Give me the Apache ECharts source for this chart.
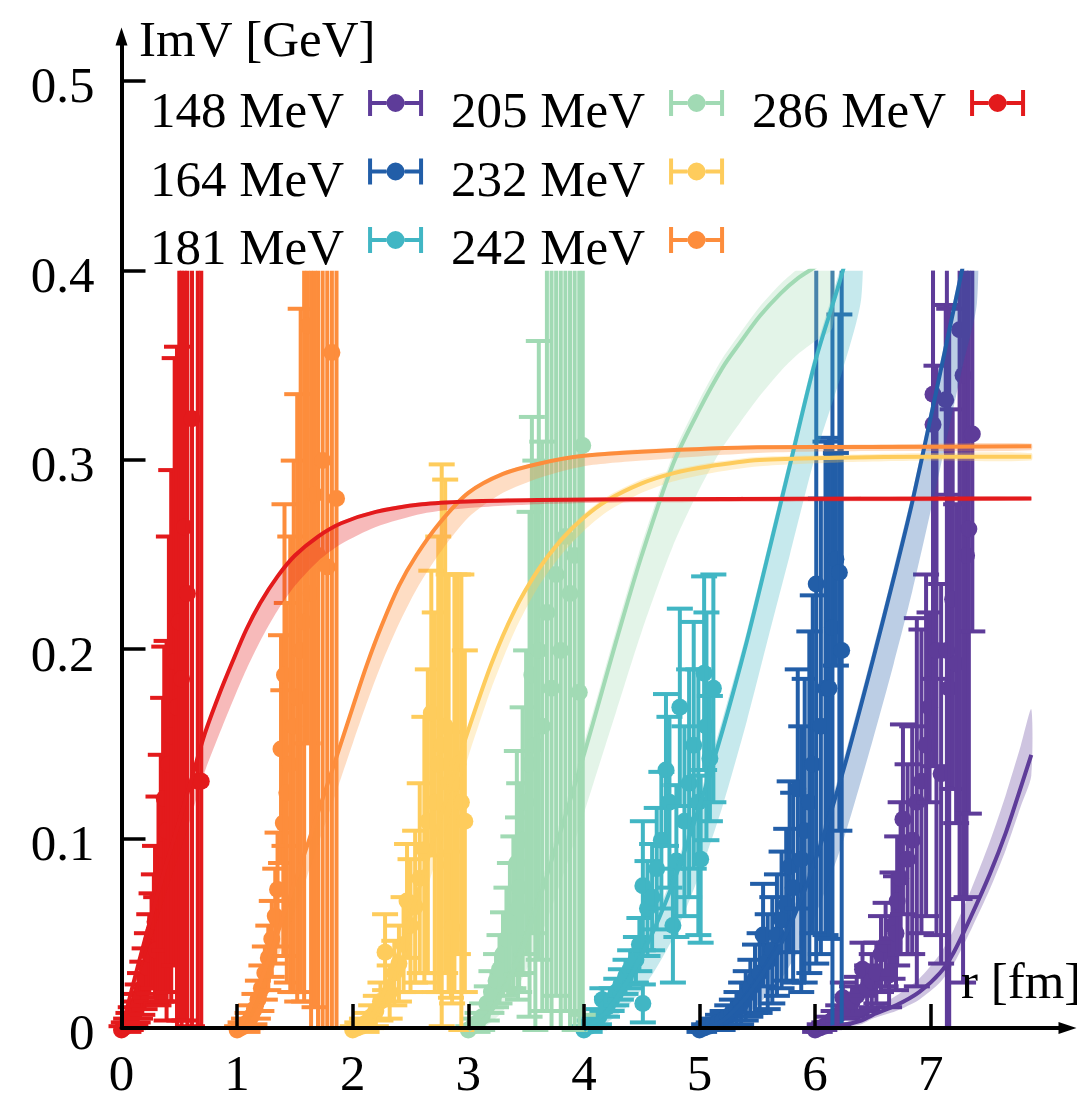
<!DOCTYPE html>
<html>
<head>
<meta charset="utf-8">
<script src="https://cdn.jsdelivr.net/npm/echarts@6/dist/echarts.min.js"></script>
<style>
  html, body { margin: 0; padding: 0; background: #fff; }
  #chart { width: 1077px; height: 1102px; }
</style>
</head>
<body>
<div id="chart"></div>
<script>
// Imaginary part of the static potential vs. distance, one curve per temperature.
// Each temperature is shifted to the right by a whole number of fm.
const temperatures = ['148 MeV', '164 MeV', '181 MeV', '205 MeV', '232 MeV', '242 MeV', '286 MeV'];
const shifts = [6, 5, 4, 3, 2, 1, 0];

const xTicks = [0, 1, 2, 3, 4, 5, 6, 7];
const yTicks = [0, 0.1, 0.2, 0.3, 0.4, 0.5];
const yTickLabels = ['0', '0.1', '0.2', '0.3', '0.4', '0.5'];

// Lattice points: r [fm], Im V [GeV], error [GeV]
const r148 = [0.00,0.04,0.08,0.12,0.16,0.20,0.24,0.28,0.32,0.36,0.41,0.45,0.49,0.53,0.57,0.61,0.64,0.67,0.70,0.71,0.74,0.76,0.80,0.84,0.88,0.92,0.96,0.99,1.02,1.02,1.05,1.09,1.13,1.14,1.16,1.19,1.22,1.25,1.28,1.31,1.33,1.36];
const v148 = [0.000,0.001,0.002,0.004,0.006,0.008,0.017,0.012,0.015,0.018,0.032,0.022,0.026,0.030,0.040,0.045,0.029,0.055,0.051,0.068,0.080,0.111,0.090,0.100,0.120,0.131,0.150,0.170,0.335,0.319,0.200,0.135,0.332,0.200,0.180,0.227,0.193,0.369,0.345,0.250,0.264,0.314];
const e148 = [0.001,0.002,0.002,0.003,0.004,0.005,0.008,0.006,0.008,0.010,0.014,0.012,0.014,0.016,0.020,0.022,0.017,0.028,0.030,0.034,0.040,0.050,0.050,0.060,0.097,0.080,0.090,0.050,0.150,0.180,0.150,0.100,0.050,0.220,0.200,0.100,0.084,0.300,0.320,0.180,0.150,0.104];

const r164 = [0.00,0.04,0.08,0.12,0.16,0.20,0.24,0.28,0.32,0.36,0.40,0.44,0.48,0.52,0.55,0.59,0.63,0.67,0.71,0.75,0.78,0.81,0.85,0.88,0.91,0.95,0.98,1.01,1.05,1.09,1.12,1.15,1.18,1.21,1.23];
const v164 = [0.000,0.001,0.002,0.003,0.004,0.005,0.007,0.009,0.011,0.014,0.018,0.022,0.027,0.030,0.050,0.036,0.042,0.050,0.058,0.066,0.086,0.075,0.127,0.090,0.105,0.120,0.140,0.235,0.160,0.180,0.180,0.212,0.248,0.241,0.200];
const e164 = [0.001,0.002,0.002,0.003,0.004,0.005,0.006,0.007,0.009,0.011,0.013,0.015,0.018,0.021,0.027,0.025,0.028,0.032,0.036,0.040,0.045,0.050,0.063,0.070,0.080,0.090,0.089,0.200,0.120,0.130,0.132,0.250,0.056,0.136,0.250];

const r181 = [0.00,0.05,0.09,0.13,0.16,0.20,0.24,0.28,0.32,0.36,0.40,0.45,0.48,0.51,0.51,0.55,0.59,0.63,0.67,0.71,0.74,0.77,0.80,0.83,0.87,0.91,0.95,0.99,1.01,1.04,1.06,1.09,1.12];
const v181 = [0.000,0.002,0.004,0.007,0.016,0.012,0.016,0.020,0.024,0.028,0.032,0.037,0.045,0.014,0.076,0.064,0.070,0.085,0.100,0.137,0.120,0.055,0.089,0.170,0.110,0.130,0.150,0.120,0.090,0.188,0.160,0.143,0.180];
const e181 = [0.002,0.003,0.003,0.004,0.006,0.005,0.006,0.007,0.008,0.009,0.010,0.012,0.014,0.010,0.034,0.025,0.028,0.032,0.036,0.040,0.045,0.030,0.040,0.052,0.050,0.060,0.065,0.070,0.044,0.051,0.060,0.033,0.060];

const r205 = [0.00,0.04,0.08,0.12,0.16,0.20,0.24,0.27,0.30,0.33,0.36,0.39,0.42,0.43,0.44,0.47,0.50,0.53,0.55,0.58,0.61,0.64,0.68,0.72,0.76,0.80,0.84,0.88,0.92,0.96,0.99];
const v205 = [0.000,0.002,0.004,0.007,0.014,0.020,0.026,0.032,0.040,0.048,0.055,0.062,0.088,0.064,0.075,0.100,0.120,0.140,0.187,0.150,0.200,0.160,0.220,0.180,0.240,0.200,0.260,0.230,0.250,0.178,0.308];
const e205 = [0.002,0.004,0.005,0.007,0.009,0.011,0.014,0.018,0.022,0.027,0.033,0.040,0.059,0.048,0.055,0.070,0.080,0.133,0.136,0.150,0.163,0.150,0.210,0.250,0.222,0.250,0.250,0.250,0.250,0.300,0.300];

const r232 = [0.00,0.04,0.08,0.12,0.16,0.20,0.24,0.28,0.32,0.36,0.40,0.44,0.47,0.50,0.54,0.58,0.62,0.65,0.68,0.71,0.74,0.77,0.80,0.83,0.85,0.86,0.88,0.91,0.94,0.97];
const v232 = [0.000,0.001,0.002,0.004,0.007,0.010,0.015,0.041,0.020,0.030,0.035,0.045,0.068,0.055,0.065,0.080,0.095,0.110,0.167,0.120,0.140,0.150,0.160,0.130,0.087,0.054,0.130,0.140,0.120,0.110];
const e232 = [0.002,0.003,0.004,0.005,0.006,0.008,0.010,0.020,0.014,0.017,0.020,0.025,0.030,0.035,0.040,0.050,0.070,0.080,0.075,0.100,0.120,0.148,0.130,0.110,0.070,0.040,0.110,0.100,0.120,0.090];

const r242 = [0.00,0.03,0.06,0.09,0.12,0.15,0.18,0.21,0.24,0.27,0.30,0.33,0.35,0.38,0.40,0.41,0.43,0.46,0.49,0.52,0.55,0.58,0.61,0.64,0.67,0.70,0.74,0.78,0.82,0.86];
const v242 = [0.000,0.001,0.002,0.004,0.007,0.011,0.016,0.022,0.030,0.038,0.048,0.060,0.074,0.148,0.109,0.187,0.125,0.140,0.160,0.175,0.200,0.215,0.371,0.230,0.282,0.250,0.300,0.244,0.357,0.280];
const e242 = [0.002,0.003,0.004,0.005,0.006,0.008,0.010,0.012,0.014,0.017,0.020,0.025,0.030,0.060,0.070,0.090,0.100,0.120,0.140,0.160,0.180,0.200,0.220,0.240,0.270,0.300,0.330,0.360,0.400,0.450];

const r286 = [0.00,0.02,0.04,0.06,0.08,0.10,0.12,0.14,0.16,0.18,0.20,0.22,0.24,0.26,0.28,0.29,0.30,0.32,0.34,0.36,0.37,0.39,0.41,0.43,0.46,0.48,0.50,0.52,0.545,0.57,0.61,0.66,0.69];
const v286 = [0.000,0.001,0.002,0.004,0.006,0.008,0.011,0.014,0.018,0.022,0.027,0.033,0.040,0.047,0.052,0.057,0.042,0.068,0.080,0.095,0.122,0.105,0.140,0.155,0.194,0.170,0.215,0.185,0.265,0.230,0.322,0.131,0.131];
const e286 = [0.002,0.003,0.004,0.005,0.006,0.007,0.008,0.010,0.012,0.014,0.016,0.018,0.021,0.025,0.030,0.040,0.028,0.055,0.065,0.080,0.080,0.100,0.120,0.140,0.160,0.190,0.210,0.230,0.260,0.300,0.320,0.380,0.450];

// Fit curves: r [fm], central value, lower and upper edge of the uncertainty band
const fitR148  = [0,0.2,0.4,0.5,0.7,0.9,1.08,1.2,1.35,1.51,1.65,1.78,1.87];
const fitV148  = [0,0.002,0.005,0.008,0.013,0.020,0.030,0.041,0.060,0.082,0.104,0.128,0.145];
const fitLo148 = [0,0.001,0.003,0.006,0.010,0.016,0.025,0.035,0.053,0.074,0.095,0.118,0.134];
const fitHi148 = [0,0.003,0.007,0.011,0.018,0.027,0.040,0.053,0.074,0.099,0.124,0.150,0.169];

const fitR164  = [0,0.2,0.4,0.55,0.72,0.9,1.06,1.25,1.5,1.68,1.84,2.05,2.27,2.4];
const fitV164  = [0,0.005,0.017,0.030,0.047,0.072,0.100,0.138,0.195,0.238,0.278,0.337,0.400,0.437];
const fitLo164 = [0,0.002,0.008,0.016,0.028,0.047,0.069,0.101,0.153,0.193,0.231,0.287,0.348,0.383];
const fitHi164 = [0,0.006,0.020,0.034,0.052,0.077,0.105,0.143,0.200,0.243,0.283,0.342,0.405,0.442];

const fitR181  = [0,0.2,0.4,0.6,0.8,1.0,1.2,1.41,1.6,1.78,2.0,2.24,2.4];
const fitV181  = [0,0.010,0.028,0.052,0.082,0.118,0.158,0.205,0.252,0.297,0.352,0.400,0.440];
const fitLo181 = [0,0.004,0.014,0.030,0.052,0.082,0.118,0.163,0.208,0.250,0.302,0.348,0.386];
const fitHi181 = [0,0.012,0.031,0.056,0.087,0.123,0.164,0.210,0.257,0.302,0.357,0.406,0.446];

const fitR205  = [0,0.15,0.3,0.45,0.6,0.8,1.0,1.15,1.28,1.5,1.77,2.0,2.2,2.35,2.52,2.7,2.85,3.0,3.15];
const fitV205  = [0,0.006,0.020,0.040,0.066,0.105,0.145,0.177,0.205,0.250,0.298,0.327,0.349,0.362,0.376,0.388,0.396,0.402,0.408];
const fitLo205 = [0,0.002,0.010,0.025,0.045,0.078,0.114,0.143,0.168,0.210,0.255,0.285,0.307,0.320,0.334,0.347,0.356,0.363,0.370];
const fitHi205 = [0,0.008,0.024,0.045,0.072,0.111,0.151,0.183,0.211,0.256,0.303,0.332,0.354,0.367,0.381,0.393,0.401,0.407,0.413];

const fitR232  = [0,0.1,0.2,0.3,0.4,0.5,0.6,0.8,1.0,1.2,1.4,1.6,1.8,2.0,2.2,2.5,2.77,3.06,3.52,4.2,5.0,5.87];
const fitV232  = [0,0.003,0.011,0.024,0.041,0.060,0.080,0.120,0.158,0.193,0.221,0.242,0.258,0.270,0.279,0.288,0.2933,0.2968,0.3003,0.3015,0.302,0.302];
const fitLo232 = [0,0.001,0.006,0.016,0.030,0.047,0.066,0.105,0.144,0.180,0.210,0.233,0.250,0.263,0.273,0.283,0.289,0.293,0.297,0.299,0.300,0.300];
const fitHi232 = [0,0.004,0.013,0.026,0.043,0.062,0.082,0.122,0.160,0.195,0.223,0.244,0.260,0.272,0.281,0.290,0.295,0.2985,0.302,0.303,0.304,0.304];

const fitR242  = [0,0.1,0.2,0.3,0.4,0.5,0.6,0.73,0.85,1.0,1.12,1.25,1.4,1.55,1.75,2.0,2.3,2.62,3.0,3.5,4.5,5.5,6.87];
const fitV242  = [0,0.010,0.025,0.042,0.060,0.078,0.096,0.120,0.142,0.170,0.192,0.213,0.234,0.250,0.267,0.283,0.293,0.2985,0.3025,0.3047,0.307,0.3072,0.3075];
const fitLo242 = [0,0.004,0.015,0.030,0.046,0.063,0.080,0.103,0.124,0.151,0.172,0.193,0.214,0.232,0.251,0.270,0.283,0.291,0.297,0.300,0.304,0.305,0.3055];
const fitHi242 = [0,0.011,0.027,0.044,0.062,0.080,0.098,0.122,0.144,0.172,0.194,0.215,0.235,0.251,0.268,0.284,0.294,0.2995,0.3035,0.306,0.308,0.3085,0.309];

const fitR286  = [0,0.1,0.2,0.3,0.4,0.5,0.6,0.72,0.84,0.96,1.08,1.2,1.35,1.5,1.7,1.9,2.2,2.6,3.0,3.6,4.5,6,7.87];
const fitV286  = [0,0.024,0.047,0.069,0.090,0.110,0.131,0.156,0.176,0.194,0.211,0.225,0.239,0.250,0.260,0.267,0.273,0.277,0.2785,0.2793,0.2797,0.2799,0.280];
const fitLo286 = [0,0.018,0.037,0.056,0.075,0.093,0.112,0.136,0.155,0.173,0.190,0.205,0.221,0.234,0.247,0.256,0.265,0.272,0.275,0.277,0.278,0.2785,0.279];
const fitHi286 = [0,0.026,0.050,0.072,0.093,0.114,0.134,0.158,0.178,0.196,0.212,0.226,0.240,0.251,0.261,0.268,0.274,0.278,0.2795,0.280,0.2805,0.281,0.281];

// ---- assembly ----
const pointSets = [
  [r148, v148, e148], [r164, v164, e164], [r181, v181, e181], [r205, v205, e205],
  [r232, v232, e232], [r242, v242, e242], [r286, v286, e286]
];
const fitSets = [
  [fitR148, fitV148, fitLo148, fitHi148], [fitR164, fitV164, fitLo164, fitHi164],
  [fitR181, fitV181, fitLo181, fitHi181], [fitR205, fitV205, fitLo205, fitHi205],
  [fitR232, fitV232, fitLo232, fitHi232], [fitR242, fitV242, fitLo242, fitHi242],
  [fitR286, fitV286, fitLo286, fitHi286]
];
const palette = ['#5e3c99', '#225ea8', '#41b6c4', '#a1dab4', '#fecc5c', '#fd8d3c', '#e31a1c'];

const FONT = '"Liberation Serif", "DejaVu Serif", serif';
const PX_PER_FM = 115.6, PX_PER_GEV = 1898;
const GRID_LEFT = 121.5, GRID_RIGHT = 9.5, GRID_BOTTOM = 72, GRID_TOP = 36.5;
const X_MAX = (1077 - GRID_LEFT - GRID_RIGHT) / PX_PER_FM;
const Y_MAX = (1102 - GRID_BOTTOM - GRID_TOP) / PX_PER_GEV;
const Y_CLIP = 0.4;
const DATA_TOP = 1102 - GRID_BOTTOM - Y_CLIP * PX_PER_GEV;

// error-bar legend glyph: two caps, a bar and a dot; the last zero-area segment
// reserves room below so the label sits a little lower than the glyph
const errorbarIcon = 'path://M0,0h4v26h-4z M51,0h4v26h-4z M4,11h14.5v4h-14.5z M36.5,11h14.5v4h-14.5z M18.5,13a9,9 0 1,0 18,0a9,9 0 1,0 -18,0z M0,48h0.01';

function renderErrorBar(params, api) {
  const x = api.value(0), y = api.value(1), e = api.value(2);
  const cs = params.coordSys;
  const color = api.visual('color');
  const c = api.coord([x, y]);
  let top = api.coord([x, y + e])[1];
  let bot = api.coord([x, y - e])[1];
  const topCut = top < cs.y;
  const botCut = bot > cs.y + cs.height + 3;
  if (topCut) top = cs.y;
  if (botCut) bot = cs.y + cs.height;
  const half = 13, lw = 4;
  const children = [
    { type: 'line', shape: { x1: c[0], y1: top, x2: c[0], y2: bot }, style: { stroke: color, lineWidth: lw } }
  ];
  if (!topCut) children.push({ type: 'line', shape: { x1: c[0] - half, y1: top, x2: c[0] + half, y2: top }, style: { stroke: color, lineWidth: lw } });
  if (!botCut) children.push({ type: 'line', shape: { x1: c[0] - half, y1: bot, x2: c[0] + half, y2: bot }, style: { stroke: color, lineWidth: lw } });
  if (c[1] >= cs.y) children.push({ type: 'circle', shape: { cx: c[0], cy: c[1], r: 8.5 }, style: { fill: color } });
  return { type: 'group', children };
}

function bandRenderer(i) {
  const [fr, , lo, hi] = fitSets[i];
  return function (params, api) {
    const cs = params.coordSys;
    const upper = fr.map((rr, k) => api.coord([rr + shifts[i], hi[k]]));
    const lower = fr.map((rr, k) => api.coord([rr + shifts[i], lo[k]])).reverse();
    return {
      type: 'polygon',
      shape: { points: upper.concat(lower), smooth: 0.25 },
      style: { fill: palette[i], opacity: 0.3 },
      clipPath: { type: 'rect', shape: { x: cs.x, y: cs.y, width: cs.width, height: cs.height } }
    };
  };
}

const series = [];
temperatures.forEach((name, i) => {
  const [r, v, e] = pointSets[i];
  series.push({
    type: 'custom', name, xAxisIndex: 1, yAxisIndex: 1, clip: false, z: 2,
    itemStyle: { color: palette[i] },
    encode: { x: 0, y: 1 },
    data: r.map((rr, k) => [rr + shifts[i], v[k], e[k]]),
    renderItem: renderErrorBar
  });
});
temperatures.forEach((name, i) => {
  series.push({
    type: 'custom', name: name + ' band', xAxisIndex: 1, yAxisIndex: 1, z: 3, silent: true,
    data: [[shifts[i], 0]], encode: { x: 0, y: 1 },
    renderItem: bandRenderer(i)
  });
});
temperatures.forEach((name, i) => {
  const [fr, fv] = fitSets[i];
  series.push({
    type: 'line', name: name + ' fit', xAxisIndex: 1, yAxisIndex: 1, symbol: 'none',
    smooth: 0.3, silent: true, z: 4,
    lineStyle: { color: palette[i], width: 4 },
    data: fr.map((rr, k) => [rr + shifts[i], fv[k]])
  });
});

// legend: three columns, glyph to the right of the text
const legendSlots = [[150, 103], [150, 171.5], [150, 240], [451, 103], [451, 171.5], [451, 240], [752, 103]];
const legends = temperatures.map((name, i) => ({
  data: [{ name, icon: errorbarIcon }],
  left: legendSlots[i][0], top: legendSlots[i][1] - 14.5,
  orient: 'horizontal', align: 'right', padding: 0,
  itemWidth: 55, itemHeight: 48, selectedMode: false,
  textStyle: { fontFamily: FONT, fontSize: 51, color: '#000', lineHeight: 51, padding: [0, 19, 0, 0] }
}));

const option = {
  animation: false,
  backgroundColor: '#fff',
  grid: [
    { left: GRID_LEFT, right: GRID_RIGHT, top: GRID_TOP, bottom: GRID_BOTTOM },
    { left: GRID_LEFT, right: GRID_RIGHT, top: DATA_TOP, bottom: GRID_BOTTOM }
  ],
  xAxis: [
    {
      gridIndex: 0, type: 'value', min: 0, max: X_MAX, z: 10,
      axisLine: { lineStyle: { color: '#000', width: 4 }, symbol: ['none', 'triangle'], symbolSize: [12, 18] },
      axisTick: { inside: true, length: 24, lineStyle: { color: '#000', width: 3.5 }, customValues: xTicks },
      axisLabel: { customValues: xTicks, fontFamily: FONT, fontSize: 51, color: '#000', margin: 23 },
      splitLine: { show: false }
    },
    { gridIndex: 1, type: 'value', min: 0, max: X_MAX, show: false }
  ],
  yAxis: [
    {
      gridIndex: 0, type: 'value', min: 0, max: Y_MAX, z: 10,
      axisLine: { lineStyle: { color: '#000', width: 4 }, symbol: ['none', 'triangle'], symbolSize: [12, 18] },
      axisTick: { inside: true, length: 24, lineStyle: { color: '#000', width: 3.5 }, customValues: yTicks.slice(1) },
      axisLabel: {
        customValues: yTicks, fontFamily: FONT, fontSize: 51, color: '#000', margin: 27,
        verticalAlign: 'top', lineHeight: 16,
        formatter: val => yTickLabels[yTicks.findIndex(t => Math.abs(t - val) < 1e-9)]
      },
      splitLine: { show: false }
    },
    { gridIndex: 1, type: 'value', min: 0, max: Y_CLIP, show: false }
  ],
  legend: legends,
  graphic: [
    { type: 'text', left: 139, top: 17, z: 20, style: { text: 'ImV [GeV]', font: '51px ' + FONT, fill: '#000' } },
    { type: 'text', left: 961, top: 959, z: 20, style: { text: 'r [fm]', font: '51px ' + FONT, fill: '#000' } }
  ],
  series
};

const chart = echarts.init(document.getElementById('chart'));
chart.setOption(option);
</script>
</body>
</html>
